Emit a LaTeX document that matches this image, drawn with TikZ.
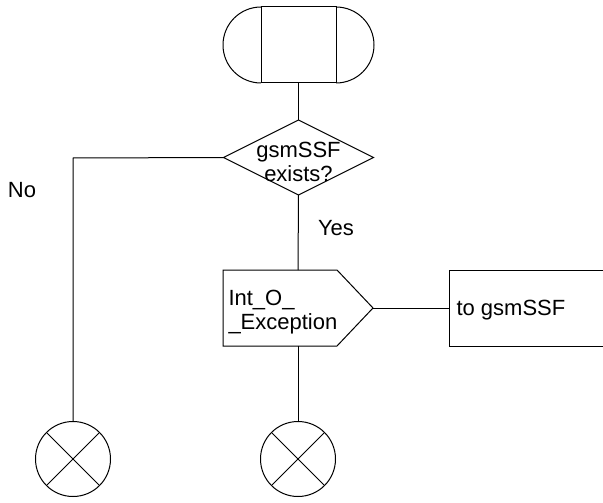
\documentclass[tikz,border=0pt]{standalone}
\usepackage{fontspec}
\setmainfont{Liberation Sans}
\usetikzlibrary{shapes.geometric}
\begin{document}
\begin{tikzpicture}[x=1pt,y=-1pt,line width=1pt,
  txt/.style={font=\fontsize{22}{24}\selectfont, inner sep=0pt},
  box/.style={rectangle, inner sep=0pt, outer sep=0pt},
  endsym/.style={circle, draw, minimum size=75pt, inner sep=0pt, outer sep=0pt}]
\useasboundingbox (0,0) rectangle (603,503);
% start terminator
\node[box, draw, minimum width=75pt, minimum height=76pt] (start) at (298.5,45) {};
\draw (start.north west) arc[start angle=90, end angle=270, radius=38pt];
\draw (start.north east) arc[start angle=90, end angle=-90, radius=38pt];
% decision
\node[diamond, draw, minimum width=150pt, minimum height=75pt, inner sep=0pt, outer sep=0pt] (dec) at (298.5,157.5) {};
\node[txt, align=center] (dectxt) at (298.5,162) {gsmSSF\\exists?};
% output signal
\node[box, minimum width=150pt, minimum height=76pt] (out) at (298,308) {};
\draw (out.north west) -- ([xshift=114pt]out.north west) -- (out.east)
  -- ([xshift=114pt]out.south west) -- (out.south west) -- cycle;
\node[txt, align=left, anchor=west] (outtxt) at (228,312) {Int\_O\_\\\_Exception};
% comment box (open on the right)
\node[box, minimum width=154pt, minimum height=76pt] (cbox) at (526,308) {};
\draw (cbox.north east) -- (cbox.north west) -- (cbox.south west) -- (cbox.south east);
\node[txt, anchor=west] (cboxtxt) at (456,310) {to gsmSSF};
% end symbols
\node[endsym] (endL) at (73,459) {};
\draw (endL.45) -- (endL.225) (endL.135) -- (endL.315);
\node[endsym] (endR) at (298,459) {};
\draw (endR.45) -- (endR.225) (endR.135) -- (endR.315);
% labels
\node[txt] (no) at (22,190) {No};
\node[txt] (yes) at (336,228) {Yes};
% connectors
\coordinate (corner) at (73,158);
\draw (start.south) -- (dec.north);
\draw (dec.west) -- (corner) -- (endL.north);
\draw (dec.south) -- (out.north);
\draw (out.east) -- (cbox.west);
\draw (out.south) -- (endR.north);
\end{tikzpicture}
\end{document}
